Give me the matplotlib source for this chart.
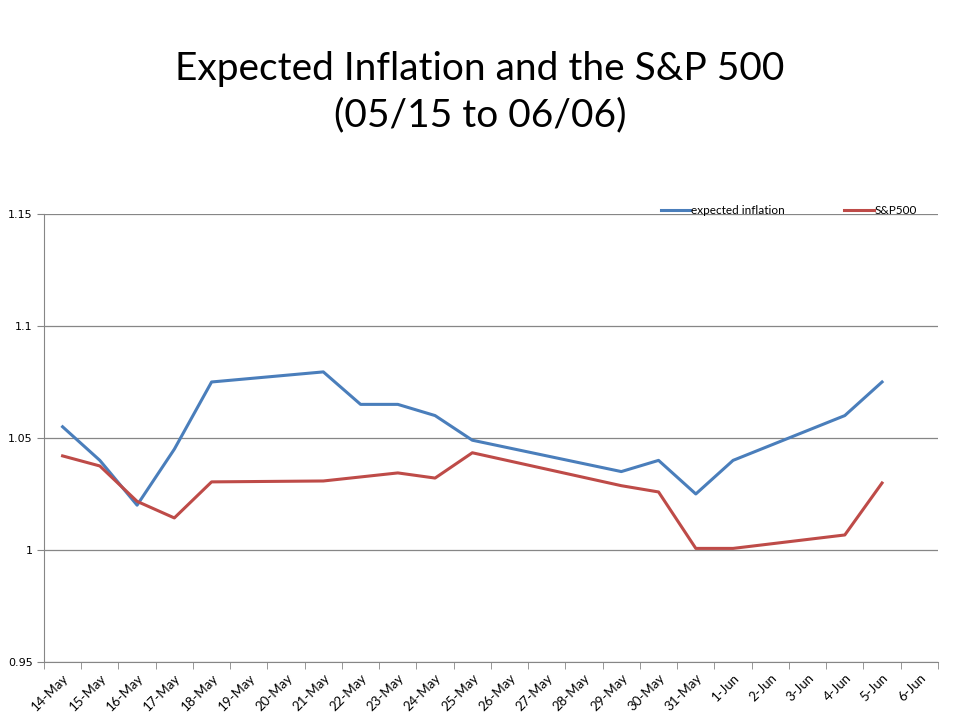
import matplotlib.pyplot as plt

# Fechas del eje (categorias de fecha, incluye fines de semana)
all_dates = ['14-May', '15-May', '16-May', '17-May', '18-May', '19-May', '20-May',
             '21-May', '22-May', '23-May', '24-May', '25-May', '26-May', '27-May',
             '28-May', '29-May', '30-May', '31-May', '1-Jun', '2-Jun', '3-Jun',
             '4-Jun', '5-Jun', '6-Jun']

# Dias con datos
trade_dates = ['14-May', '15-May', '16-May', '17-May', '18-May', '21-May', '22-May',
               '23-May', '24-May', '25-May', '29-May', '30-May', '31-May', '1-Jun',
               '4-Jun', '5-Jun']

expected_inflation = [1.055, 1.040, 1.020, 1.045, 1.075, 1.0795, 1.065, 1.065, 1.060,
                      1.049, 1.035, 1.040, 1.025, 1.040, 1.060, 1.075]
sp500 = [1.042, 1.0375, 1.0217, 1.0143, 1.0304, 1.0308, 1.0326, 1.0344, 1.0321,
         1.0434, 1.0287, 1.0259, 1.0007, 1.0007, 1.0067, 1.0299]

yticks = [0.95, 1, 1.05, 1.1, 1.15]
ytick_labels = ['0.95', '1', '1.05', '1.1', '1.15']

plt.rcParams['font.family'] = ['Lato', 'DejaVu Sans']

fig = plt.figure(figsize=(9.6, 7.2), dpi=100)
ax = fig.add_axes([0.0458, 0.0806, 0.9312, 0.6222])

x = [all_dates.index(d) for d in trade_dates]
ax.plot(x, expected_inflation, color='#4A7EBB', lw=2.2, label='expected inflation')
ax.plot(x, sp500, color='#BE4B48', lw=2.2, label='S&P500')

ax.set_xlim(-0.5, len(all_dates) - 0.5)
ax.set_ylim(0.95, 1.15)
ax.set_yticks(yticks)
ax.set_yticklabels(ytick_labels, fontsize=8, family=['DejaVu Sans'])
ax.yaxis.grid(True, color='#868686', lw=0.9)
ax.set_axisbelow(True)

ax.set_xticks(range(len(all_dates)))
ax.set_xticklabels(all_dates, rotation=45, ha='right', rotation_mode='anchor', fontsize=9.5)
ax.set_xticks([i - 0.5 for i in range(len(all_dates) + 1)], minor=True)
ax.tick_params(axis='x', which='major', length=0, pad=7)
ax.tick_params(axis='x', which='minor', length=5, color='#868686', direction='out')
ax.tick_params(axis='y', length=5, color='#868686', direction='out', pad=3)

for s in ['top', 'right']:
    ax.spines[s].set_visible(False)
for s in ['left', 'bottom']:
    ax.spines[s].set_color('#868686')

fig.text(0.5, 0.872, 'Expected Inflation and the S&P 500\n(05/15 to 06/06)',
         ha='center', va='center', fontsize=28, linespacing=1.35)

ax.legend(loc='lower right', bbox_to_anchor=(0.982, 0.985), ncol=2, frameon=False,
          fontsize=8.5, handlelength=2.5, handletextpad=0.1, columnspacing=5,
          borderaxespad=0)

fig.savefig('out.png', dpi=100)
